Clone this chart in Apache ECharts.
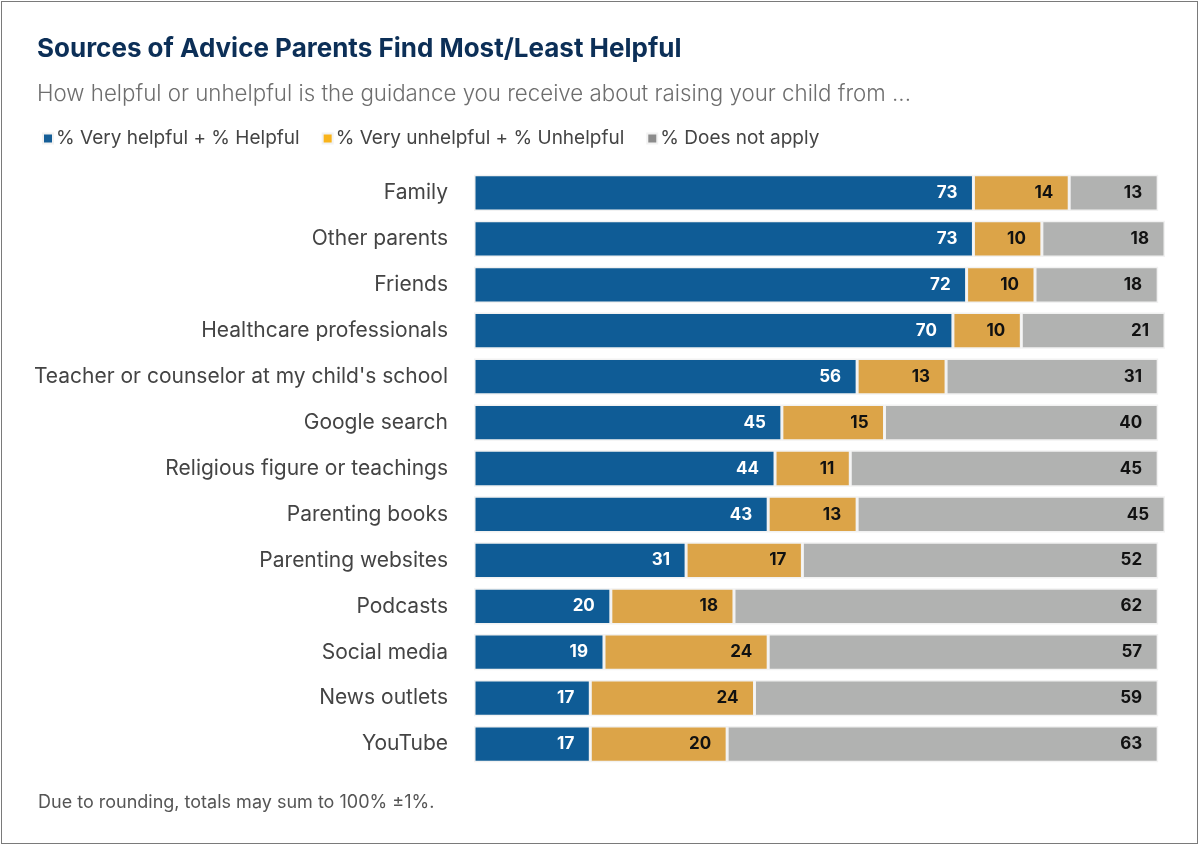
<!DOCTYPE html>
<html>
<head>
<meta charset="utf-8">
<script src="https://cdn.jsdelivr.net/npm/echarts@6/dist/echarts.min.js"></script>
<style>
  html, body { margin: 0; padding: 0; background: #fff; }
  #frame { position: absolute; left: 1px; top: 1px; width: 1195px; height: 841px; border: 1px solid #7a7a7a; box-sizing: content-box; }
  #chart { width: 1195px; height: 841px; }
</style>
</head>
<body>
<div id="frame"><div id="chart"></div></div>
<script>
// Survey sources, top to bottom
const categories = [
  'Family', 'Other parents', 'Friends', 'Healthcare professionals',
  "Teacher or counselor at my child's school", 'Google search',
  'Religious figure or teachings', 'Parenting books', 'Parenting websites',
  'Podcasts', 'Social media', 'News outlets', 'YouTube'
];
const helpful    = [73, 73, 72, 70, 56, 45, 44, 43, 31, 20, 19, 17, 17];
const unhelpful  = [14, 10, 10, 10, 13, 15, 11, 13, 17, 18, 24, 24, 20];
const notApply   = [13, 18, 18, 21, 31, 40, 45, 45, 52, 62, 57, 59, 63];

const seriesNames = ['% Very helpful + % Helpful', '% Very unhelpful + % Unhelpful', '% Does not apply'];
const FONT = 'Inter, "Noto Sans", sans-serif';

const chart = echarts.init(document.getElementById('chart'), null, { renderer: 'canvas' });

function segment(name, data, color, labelColor) {
  return {
    name: name,
    type: 'bar',
    stack: 'total',
    data: data,
    barWidth: '79%',
    itemStyle: { color: color, borderColor: '#f2f2f2', borderWidth: 1.5 },
    label: {
      show: true,
      position: 'insideRight',
      distance: 16,
      color: labelColor,
      fontFamily: FONT,
      fontWeight: 'bold',
      fontSize: 17
    },
    emphasis: { disabled: true }
  };
}

chart.setOption({
  animation: false,
  textStyle: { fontFamily: FONT },
  title: {
    text: 'Sources of Advice Parents Find Most/Least Helpful',
    subtext: 'How helpful or unhelpful is the guidance you receive about raising your child from ...',
    left: 35, top: 34,
    padding: 0,
    itemGap: 21,
    textStyle: { color: '#0c2f57', fontSize: 26, fontWeight: 'bold', fontFamily: FONT },
    subtextStyle: { color: '#6e6e6e', fontSize: 22.3, fontWeight: 300, fontFamily: FONT }
  },
  legend: {
    left: 35, top: 122,
    icon: 'rect',
    itemWidth: 10, itemHeight: 10,
    itemGap: 22,
    textStyle: { color: '#444', fontSize: 19, fontFamily: FONT, padding: [0, 0, 0, -2] },
    data: [
      { name: seriesNames[0], itemStyle: { color: '#155e97' } },
      { name: seriesNames[1], itemStyle: { color: '#f9b41b' } },
      { name: seriesNames[2], itemStyle: { color: '#8c8c8c' } }
    ]
  },
  grid: { left: 472, right: 32, top: 168, bottom: 76, containLabel: false },
  xAxis: { type: 'value', min: 0, max: 101, show: false },
  yAxis: {
    type: 'category',
    data: categories,
    inverse: true,
    axisLine: { show: false },
    axisTick: { show: false },
    axisLabel: { color: '#444', fontSize: 21, fontFamily: FONT, margin: 26 }
  },
  graphic: [{
    type: 'text',
    left: 36, top: 792,
    style: { text: 'Due to rounding, totals may sum to 100% \u00b11%.', fill: '#555', fontSize: 18, fontFamily: FONT }
  }],
  series: [
    segment(seriesNames[0], helpful, '#0f5c96', '#ffffff'),
    segment(seriesNames[1], unhelpful, '#dca448', '#111111'),
    segment(seriesNames[2], notApply, '#b1b2b1', '#111111')
  ]
});
</script>
</body>
</html>
